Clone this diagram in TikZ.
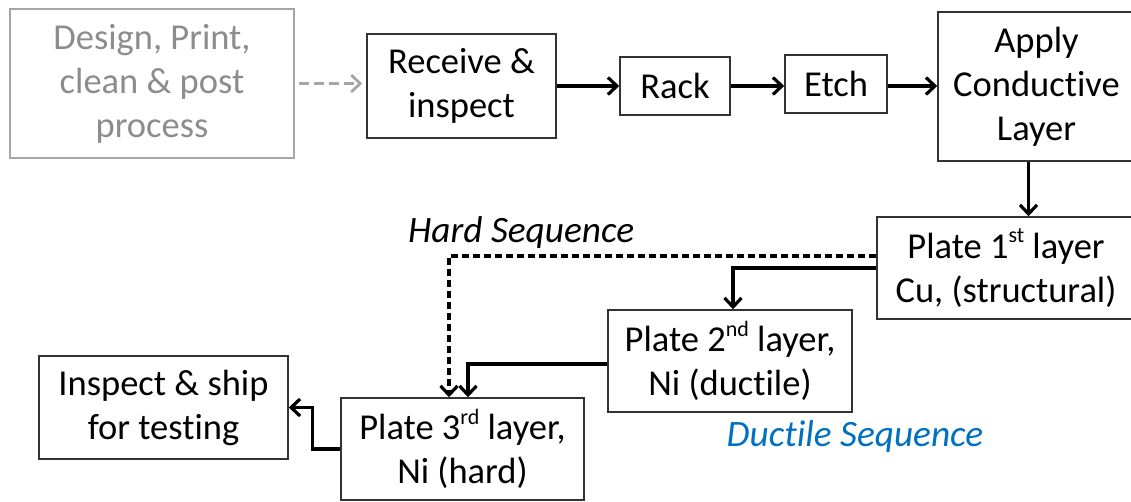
\documentclass[tikz,border=0pt]{standalone}
\usepackage{fontspec}
\setmainfont{Carlito}[Ligatures=NoCommon]
\usetikzlibrary{arrows.meta,calc}
\definecolor{greytxt}{HTML}{8C8C8C}
\definecolor{greyline}{HTML}{A6A6A6}
\definecolor{ductblue}{HTML}{0070C0}
\newcommand\supx[1]{\raisebox{0.42em}{\fontsize{22}{22}\selectfont #1}}
\tikzset{
  box/.style={draw=black!80, line width=1.5pt, align=center, inner sep=0pt,
    font=\fontsize{36.5}{44}\selectfont},
  greybox/.style={box, draw=greyline, text=greytxt},
  conn/.style={line width=3.2pt, -{Straight Barb[length=9pt,width=17pt]}},
  lbl/.style={font=\fontsize{37.3}{44}\selectfont\itshape, inner sep=0pt}
}
\begin{document}
\begin{tikzpicture}[x=1pt,y=-1pt]
\useasboundingbox (0,0) rectangle (1131,502);
\node[greybox, minimum width=284pt, minimum height=149pt] (design) at (152,83.5) {Design, Print,\\clean \& post\\process};
\node[box, minimum width=189pt, minimum height=104pt] (receive) at (461.5,86) {Receive \&\\inspect};
\node[box, minimum width=110pt, minimum height=58pt] (rack) at (675,86) {Rack};
\node[box, minimum width=102pt, minimum height=58pt] (etch) at (836,84) {Etch};
\node[box, minimum width=197pt, minimum height=149pt] (apply) at (1036.5,86.5) {Apply\\Conductive\\Layer};
\node[box, minimum width=258pt, minimum height=102pt] (plate1) at (1006,268) {Plate 1\supx{st} layer\\Cu, (structural)};
\node[box, minimum width=244pt, minimum height=102pt] (plate2) at (730,361) {Plate 2\supx{nd} layer,\\Ni (ductile)};
\node[box, minimum width=243pt, minimum height=102pt] (plate3) at (462.5,449) {Plate 3\supx{rd} layer,\\Ni (hard)};
\node[box, minimum width=249pt, minimum height=103pt] (inspect) at (163.5,407.5) {Inspect \& ship\\for testing};
\node[lbl, anchor=west] (hard) at (408,233) {Hard Sequence};
\node[lbl, text=ductblue] (duct) at (855,437) {Ductile Sequence};
% connectors
\draw[conn, line width=2.8pt, greyline, dash pattern=on 10pt off 5pt, shorten <=4pt, shorten >=4pt] (design.east) -- (design.east -| receive.west);
\draw[conn] (receive.east) -- (receive.east -| rack.west);
\draw[conn] (rack.east) -- (rack.east -| etch.west);
\draw[conn] (etch.east |- rack.east) -- (rack.east -| apply.west);
\coordinate (a1) at ($(apply.south)+(-8,0)$);
\draw[conn] (a1) -- (a1 |- plate1.north);
\coordinate (p1d) at ($(plate1.west)+(0,-12)$);
\coordinate (p3d) at ($(plate3.north)+(-13.5,0)$);
\draw[conn, dash pattern=on 7pt off 4pt] (p1d) -| (p3d);
\draw[conn] (plate1.west) -| ($(plate2.north)+(3,0)$);
\coordinate (p3s) at ($(plate3.north)+(5.5,0)$);
\draw[conn] ($(plate2.west)+(0,3)$) -| (p3s);
\draw[conn] (plate3.west) -- ++(-28,0) |- (inspect.east);
\end{tikzpicture}
\end{document}
